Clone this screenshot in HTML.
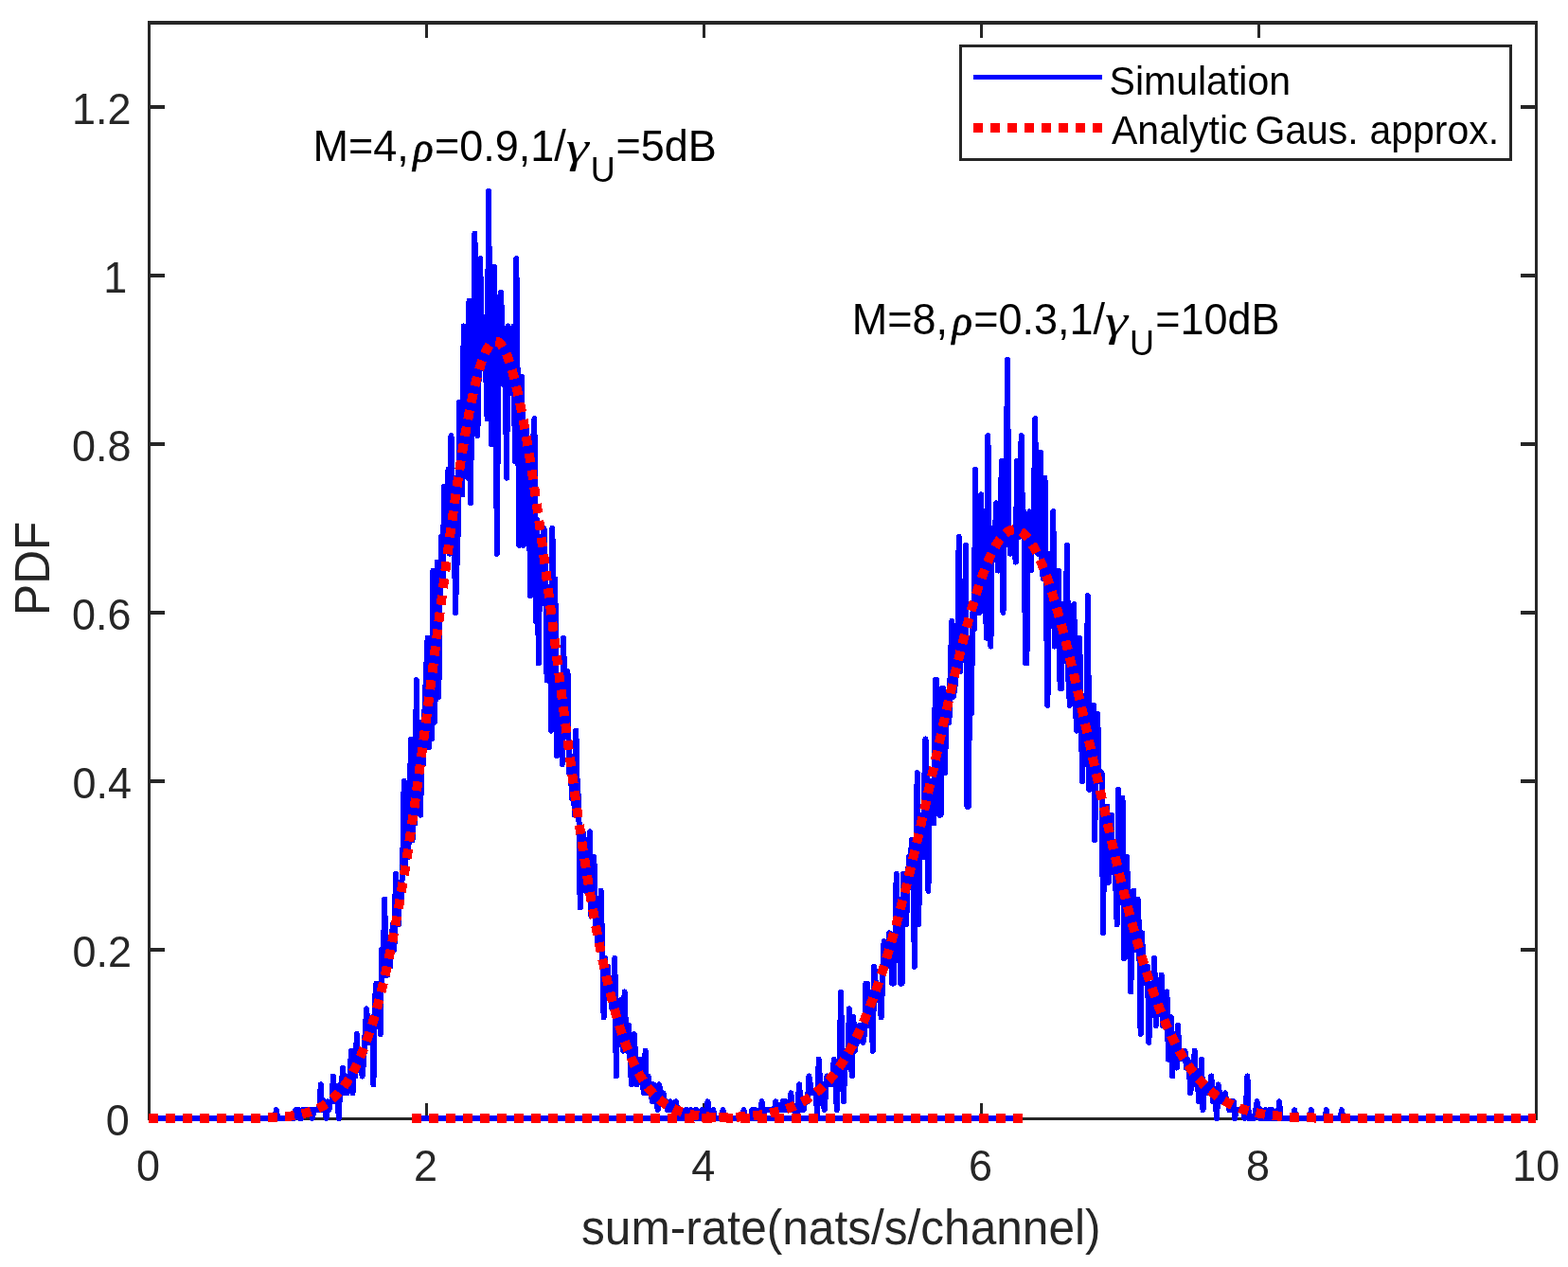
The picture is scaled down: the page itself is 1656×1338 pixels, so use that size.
<!DOCTYPE html>
<html lang="en"><head><meta charset="utf-8"><title>PDF of sum-rate</title>
<style>
html,body{margin:0;padding:0;background:#fff;}
body{width:1656px;height:1338px;overflow:hidden;}
svg{display:block;}
text{font-family:"Liberation Sans",sans-serif;}
.tk{font-size:45px;fill:#262626;}
.lab{font-size:49.6px;fill:#262626;}
.leg{font-size:41px;fill:#000;}
.ann{font-size:45px;fill:#000;}
.gr{font-family:"Liberation Serif","DejaVu Serif",serif;font-style:italic;font-size:44.5px;}
.sub{font-size:36px;}
.rho{stroke:#000;stroke-width:0.7px;}
</style></head><body>
<svg width="1656" height="1338" viewBox="0 0 1656 1338">
<rect x="0" y="0" width="1656" height="1338" fill="#fff"/>

<g fill="#262626" shape-rendering="crispEdges">
<rect x="156" y="22" width="1468" height="4"/>
<rect x="156" y="1180" width="1468" height="3"/>
<rect x="156" y="22" width="3" height="1161"/>
<rect x="1621" y="22" width="3" height="1161"/>
<rect x="449" y="26" width="3" height="14"/><rect x="449" y="1165" width="3" height="14"/>
<rect x="742" y="26" width="3" height="14"/><rect x="742" y="1165" width="3" height="14"/>
<rect x="1035" y="26" width="3" height="14"/><rect x="1035" y="1165" width="3" height="14"/>
<rect x="1328" y="26" width="3" height="14"/><rect x="1328" y="1165" width="3" height="14"/>
<rect x="159" y="1001" width="15" height="4"/><rect x="1606" y="1001" width="15" height="4"/>
<rect x="159" y="823" width="15" height="4"/><rect x="1606" y="823" width="15" height="4"/>
<rect x="159" y="645" width="15" height="4"/><rect x="1606" y="645" width="15" height="4"/>
<rect x="159" y="467" width="15" height="4"/><rect x="1606" y="467" width="15" height="4"/>
<rect x="159" y="289" width="15" height="4"/><rect x="1606" y="289" width="15" height="4"/>
<rect x="159" y="111" width="15" height="4"/><rect x="1606" y="111" width="15" height="4"/>
</g>
<g fill="none" stroke-linejoin="round" stroke-linecap="butt" shape-rendering="crispEdges" transform="translate(-0.4,0)">
<path d="M157.5,1181L159,1181L160.4,1181L161.9,1181L163.4,1181L164.8,1181L166.3,1181L167.8,1181L169.2,1181L170.7,1181L172.2,1181L173.6,1181L175.1,1181L176.5,1181L178,1181L179.5,1181L180.9,1181L182.4,1181L183.9,1181L185.3,1181L186.8,1181L188.3,1181L189.7,1181L191.2,1181L192.7,1181L194.1,1181L195.6,1181L197.1,1181L198.5,1181L200,1181L201.4,1181L202.9,1181L204.4,1181L205.8,1181L207.3,1181L208.8,1181L210.2,1181L211.7,1181L213.2,1181L214.6,1181L216.1,1181L217.6,1181L219,1181L220.5,1181L222,1181L223.4,1181L224.9,1181L226.4,1181L227.8,1181L229.3,1181L230.8,1181L232.2,1181L233.7,1181L235.1,1181L236.6,1181L238.1,1181L239.5,1181L241,1181L242.5,1181L243.9,1181L245.4,1181L246.9,1181L248.3,1181L249.8,1181L251.3,1181L252.7,1181L254.2,1181L255.7,1181L257.1,1181L258.6,1181L260.1,1181L261.5,1181L263,1181L264.4,1181L265.9,1181L267.4,1181L268.8,1181L270.3,1181L271.8,1181L273.2,1181L274.7,1181L276.2,1181L277.6,1181L279.1,1181L280.6,1181L282,1181L283.5,1181L285,1181L286.4,1181L287.9,1181L289.4,1181L290.8,1181L292.3,1172.1L293.7,1181L295.2,1181L296.7,1181L298.1,1181L299.6,1181L301.1,1181L302.5,1181L304,1181L305.5,1181L306.9,1181L308.4,1181L309.9,1181L311.3,1181L312.8,1172.1L314.3,1172.1L315.7,1172.1L317.2,1181L318.7,1181L320.1,1172.1L321.6,1172.1L323,1172.1L324.5,1172.1L326,1172.1L327.4,1172.1L328.9,1172.1L330.4,1181L331.8,1172.1L333.3,1172.1L334.8,1172.1L336.2,1172.1L337.7,1172.1L339.2,1145.4L340.6,1172.1L342.1,1172.1L343.6,1163.2L345,1181L346.5,1163.2L347.9,1172.1L349.4,1163.2L350.9,1163.2L352.3,1136.5L353.8,1154.3L355.3,1163.2L356.7,1154.3L358.2,1181L359.7,1145.4L361.1,1145.4L362.6,1127.6L364.1,1154.3L365.5,1136.5L367,1154.3L368.5,1136.5L369.9,1136.5L371.4,1109.8L372.9,1154.3L374.3,1127.6L375.8,1136.5L377.2,1092L378.7,1118.7L380.2,1127.6L381.6,1127.6L383.1,1136.5L384.6,1118.7L386,1092L387.5,1065.3L389,1083.1L390.4,1100.9L391.9,1083.1L393.4,1074.2L394.8,1145.4L396.3,1056.4L397.8,1038.6L399.2,1074.2L400.7,1065.3L402.2,1092L403.6,1003L405.1,1020.8L406.6,949.6L408,1029.7L409.5,1029.7L410.9,994.1L412.4,1020.8L413.9,994.1L415.3,976.3L416.8,1003L418.3,922.9L419.7,976.3L421.2,976.3L422.7,931.8L424.1,949.6L425.6,914L427.1,825L428.5,914L430,887.3L431.5,905.1L432.9,860.6L434.4,780.5L435.9,887.3L437.3,833.9L438.8,869.5L440.2,718.2L441.7,833.9L443.2,825L444.6,860.6L446.1,762.7L447.6,807.2L449,744.9L450.5,709.3L452,673.7L453.4,789.4L454.9,709.3L456.4,780.5L457.8,602.5L459.3,762.7L460.8,709.3L462.2,593.6L463.7,736L465.1,620.3L466.6,566.9L468.1,611.4L469.5,513.5L471,575.8L472.5,575.8L473.9,495.7L475.4,584.7L476.9,460.1L478.3,522.4L479.8,504.6L481.3,647L482.7,602.5L484.2,558L485.7,424.5L487.1,477.9L488.6,522.4L490.1,344.4L491.5,495.7L493,451.2L494.4,504.6L495.9,317.7L497.4,531.3L498.8,406.7L500.3,433.4L501.8,246.5L503.2,362.2L504.7,460.1L506.2,388.9L507.6,273.2L509.1,362.2L510.6,388.9L512,335.5L513.5,388.9L515,442.3L516.4,202L517.9,371.1L519.4,469L520.8,335.5L522.3,282.1L523.8,353.3L525.2,584.7L526.7,388.9L528.1,397.8L529.6,308.8L531.1,371.1L532.5,406.7L534,388.9L535.5,504.6L536.9,344.4L538.4,415.6L539.9,380L541.3,397.8L542.8,344.4L544.3,486.8L545.7,273.2L547.2,415.6L548.7,575.8L550.1,469L551.6,397.8L553.1,575.8L554.5,451.2L556,451.2L557.4,477.9L558.9,486.8L560.4,629.2L561.8,531.3L563.3,469L564.8,442.3L566.2,655.9L567.7,549.1L569.2,700.4L570.6,593.6L572.1,566.9L573.6,566.9L575,558L576.5,611.4L578,718.2L579.4,620.3L580.9,620.3L582.4,771.6L583.8,558L585.3,700.4L586.7,611.4L588.2,798.3L589.7,718.2L591.1,727.1L592.6,718.2L594.1,807.2L595.5,673.7L597,744.9L598.5,744.9L599.9,709.3L601.4,816.1L602.9,798.3L604.3,842.8L605.8,825L607.3,860.6L608.7,771.6L610.2,833.9L611.6,842.8L613.1,958.5L614.6,896.2L616,878.4L617.5,887.3L619,940.7L620.4,940.7L621.9,914L623.4,878.4L624.8,967.4L626.3,940.7L627.8,905.1L629.2,985.2L630.7,967.4L632.2,1003L633.6,985.2L635.1,940.7L636.6,1003L638,1074.2L639.5,1011.9L641,1038.6L642.4,1020.8L643.9,1047.5L645.3,1038.6L646.8,1065.3L648.3,1065.3L649.7,1011.9L651.2,1136.5L652.7,1065.3L654.1,1092L655.6,1056.4L657.1,1100.9L658.5,1109.8L660,1047.5L661.5,1092L662.9,1109.8L664.4,1083.1L665.9,1118.7L667.3,1145.4L668.8,1109.8L670.2,1092L671.7,1118.7L673.2,1145.4L674.6,1136.5L676.1,1118.7L677.6,1136.5L679,1145.4L680.5,1154.3L682,1109.8L683.4,1154.3L684.9,1136.5L686.4,1145.4L687.8,1154.3L689.3,1163.2L690.8,1145.4L692.2,1154.3L693.7,1163.2L695.2,1172.1L696.6,1145.4L698.1,1154.3L699.5,1163.2L701,1154.3L702.5,1163.2L703.9,1163.2L705.4,1172.1L706.9,1172.1L708.3,1163.2L709.8,1172.1L711.3,1172.1L712.7,1172.1L714.2,1163.2L715.7,1172.1L717.1,1181L718.6,1172.1L720.1,1172.1L721.5,1181L723,1181L724.5,1172.1L725.9,1172.1L727.4,1181L728.9,1181L730.3,1172.1L731.8,1181L733.2,1181L734.7,1172.1L736.2,1172.1L737.6,1181L739.1,1181L740.6,1181L742,1172.1L743.5,1181L745,1181L746.4,1181L747.9,1163.2L749.4,1181L750.8,1181L752.3,1181L753.8,1172.1L755.2,1181L756.7,1181L758.1,1181L759.6,1181L761.1,1181L762.5,1181L764,1172.1L765.5,1181L766.9,1181L768.4,1181L769.9,1181L771.3,1181L772.8,1181L774.3,1181L775.7,1181L777.2,1181L778.7,1181L780.1,1181L781.6,1181L783.1,1181L784.5,1181L786,1172.1L787.5,1181L788.9,1181L790.4,1181L791.8,1181L793.3,1181L794.8,1172.1L796.2,1181L797.7,1181L799.2,1181L800.6,1181L802.1,1181L803.6,1181L805,1181L806.5,1181L808,1181L809.4,1181L810.9,1181L812.4,1181L813.8,1181L815.3,1181L816.8,1181L818.2,1181L819.7,1181L821.1,1181L822.6,1181L824.1,1181L825.5,1181L827,1181L828.5,1181L829.9,1181L831.4,1181L832.9,1181L834.3,1181L835.8,1181L837.3,1181L838.7,1181L840.2,1181L841.7,1181L843.1,1181L844.6,1181L846,1181L847.5,1181L849,1181L850.4,1181L851.9,1181L853.4,1181L854.8,1181L856.3,1181L857.8,1181L859.2,1181L860.7,1181L862.2,1181L863.6,1181L865.1,1181L866.6,1181L868,1181L869.5,1181L871,1181L872.4,1181L873.9,1181L875.4,1181L876.8,1181L878.3,1181L879.7,1181L881.2,1181L882.7,1181L884.1,1181L885.6,1181L887.1,1181L888.5,1181L890,1181L891.5,1181L892.9,1181L894.4,1181L895.9,1181L897.3,1181L898.8,1181L900.3,1181L901.7,1181L903.2,1181L904.6,1181L906.1,1181L907.6,1181L909,1181L910.5,1181L912,1181L913.4,1181L914.9,1181L916.4,1181L917.8,1181L919.3,1181L920.8,1181L922.2,1181L923.7,1181L925.2,1181L926.6,1181L928.1,1181L929.6,1181L931,1181L932.5,1181L934,1181L935.4,1181L936.9,1181L938.3,1181L939.8,1181L941.3,1181L942.7,1181L944.2,1181L945.7,1181L947.1,1181L948.6,1181L950.1,1181L951.5,1181L953,1181L954.5,1181L955.9,1181L957.4,1181L958.9,1181L960.3,1181L961.8,1181L963.2,1181L964.7,1181L966.2,1181L967.6,1181L969.1,1181L970.6,1181L972,1181L973.5,1181L975,1181L976.4,1181L977.9,1181L979.4,1181L980.8,1181L982.3,1181L983.8,1181L985.2,1181L986.7,1181L988.2,1181L989.6,1181L991.1,1181L992.5,1181L994,1181L995.5,1181L996.9,1181L998.4,1181L999.9,1181L1001.3,1181L1002.8,1181L1004.3,1181L1005.7,1181L1007.2,1181L1008.7,1181L1010.1,1181L1011.6,1181L1013.1,1181L1014.5,1181L1016,1181L1017.5,1181L1018.9,1181L1020.4,1181L1021.9,1181L1023.3,1181L1024.8,1181L1026.2,1181L1027.7,1181L1029.2,1181L1030.6,1181L1032.1,1181L1033.6,1181L1035,1181L1036.5,1181L1038,1181L1039.4,1181L1040.9,1181L1042.4,1181L1043.8,1181L1045.3,1181L1046.8,1181L1048.2,1181L1049.7,1181L1051.2,1181L1052.6,1181L1054.1,1181L1055.5,1181L1057,1181L1058.5,1181L1059.9,1181L1061.4,1181L1062.9,1181L1064.3,1181L1065.8,1181L1067.3,1181L1068.7,1181L1070.2,1181L1071.7,1181L1073.1,1181L1074.6,1181L1076.1,1181L1077.5,1181L1079,1181L1080.5,1181" stroke="#0000ff" stroke-width="6"/>
<path d="M435.9,1181L437.3,1181L438.8,1181L440.2,1181L441.7,1181L443.2,1181L444.6,1181L446.1,1181L447.6,1181L449,1181L450.5,1181L452,1181L453.4,1181L454.9,1181L456.4,1181L457.8,1181L459.3,1181L460.8,1181L462.2,1181L463.7,1181L465.1,1181L466.6,1181L468.1,1181L469.5,1181L471,1181L472.5,1181L473.9,1181L475.4,1181L476.9,1181L478.3,1181L479.8,1181L481.3,1181L482.7,1181L484.2,1181L485.7,1181L487.1,1181L488.6,1181L490.1,1181L491.5,1181L493,1181L494.4,1181L495.9,1181L497.4,1181L498.8,1181L500.3,1181L501.8,1181L503.2,1181L504.7,1181L506.2,1181L507.6,1181L509.1,1181L510.6,1181L512,1181L513.5,1181L515,1181L516.4,1181L517.9,1181L519.4,1181L520.8,1181L522.3,1181L523.8,1181L525.2,1181L526.7,1181L528.1,1181L529.6,1181L531.1,1181L532.5,1181L534,1181L535.5,1181L536.9,1181L538.4,1181L539.9,1181L541.3,1181L542.8,1181L544.3,1181L545.7,1181L547.2,1181L548.7,1181L550.1,1181L551.6,1181L553.1,1181L554.5,1181L556,1181L557.4,1181L558.9,1181L560.4,1181L561.8,1181L563.3,1181L564.8,1181L566.2,1181L567.7,1181L569.2,1181L570.6,1181L572.1,1181L573.6,1181L575,1181L576.5,1181L578,1181L579.4,1181L580.9,1181L582.4,1181L583.8,1181L585.3,1181L586.7,1181L588.2,1181L589.7,1181L591.1,1181L592.6,1181L594.1,1181L595.5,1181L597,1181L598.5,1181L599.9,1181L601.4,1181L602.9,1181L604.3,1181L605.8,1181L607.3,1181L608.7,1181L610.2,1181L611.6,1181L613.1,1181L614.6,1181L616,1181L617.5,1181L619,1181L620.4,1181L621.9,1181L623.4,1181L624.8,1181L626.3,1181L627.8,1181L629.2,1181L630.7,1181L632.2,1181L633.6,1181L635.1,1181L636.6,1181L638,1181L639.5,1181L641,1181L642.4,1181L643.9,1181L645.3,1181L646.8,1181L648.3,1181L649.7,1181L651.2,1181L652.7,1181L654.1,1181L655.6,1181L657.1,1181L658.5,1181L660,1181L661.5,1181L662.9,1181L664.4,1181L665.9,1181L667.3,1181L668.8,1181L670.2,1181L671.7,1181L673.2,1181L674.6,1181L676.1,1181L677.6,1181L679,1181L680.5,1181L682,1181L683.4,1181L684.9,1181L686.4,1181L687.8,1181L689.3,1181L690.8,1181L692.2,1181L693.7,1181L695.2,1181L696.6,1181L698.1,1181L699.5,1181L701,1181L702.5,1181L703.9,1181L705.4,1181L706.9,1181L708.3,1181L709.8,1181L711.3,1181L712.7,1181L714.2,1181L715.7,1181L717.1,1181L718.6,1181L720.1,1181L721.5,1181L723,1181L724.5,1181L725.9,1181L727.4,1181L728.9,1181L730.3,1181L731.8,1181L733.2,1181L734.7,1181L736.2,1181L737.6,1181L739.1,1181L740.6,1181L742,1181L743.5,1181L745,1181L746.4,1181L747.9,1181L749.4,1181L750.8,1181L752.3,1181L753.8,1181L755.2,1181L756.7,1181L758.1,1181L759.6,1181L761.1,1181L762.5,1181L764,1172.1L765.5,1181L766.9,1181L768.4,1181L769.9,1181L771.3,1181L772.8,1181L774.3,1181L775.7,1181L777.2,1181L778.7,1181L780.1,1181L781.6,1181L783.1,1181L784.5,1181L786,1172.1L787.5,1181L788.9,1181L790.4,1181L791.8,1181L793.3,1181L794.8,1172.1L796.2,1181L797.7,1172.1L799.2,1181L800.6,1181L802.1,1181L803.6,1172.1L805,1163.2L806.5,1181L808,1172.1L809.4,1172.1L810.9,1172.1L812.4,1172.1L813.8,1172.1L815.3,1172.1L816.8,1172.1L818.2,1172.1L819.7,1163.2L821.1,1172.1L822.6,1172.1L824.1,1172.1L825.5,1172.1L827,1163.2L828.5,1172.1L829.9,1163.2L831.4,1172.1L832.9,1172.1L834.3,1172.1L835.8,1154.3L837.3,1172.1L838.7,1172.1L840.2,1172.1L841.7,1181L843.1,1163.2L844.6,1145.4L846,1172.1L847.5,1163.2L849,1172.1L850.4,1163.2L851.9,1163.2L853.4,1163.2L854.8,1136.5L856.3,1145.4L857.8,1154.3L859.2,1154.3L860.7,1154.3L862.2,1154.3L863.6,1181L865.1,1118.7L866.6,1145.4L868,1154.3L869.5,1145.4L871,1172.1L872.4,1154.3L873.9,1136.5L875.4,1145.4L876.8,1145.4L878.3,1145.4L879.7,1136.5L881.2,1118.7L882.7,1127.6L884.1,1172.1L885.6,1127.6L887.1,1118.7L888.5,1047.5L890,1136.5L891.5,1163.2L892.9,1109.8L894.4,1127.6L895.9,1118.7L897.3,1065.3L898.8,1118.7L900.3,1136.5L901.7,1074.2L903.2,1109.8L904.6,1100.9L906.1,1100.9L907.6,1083.1L909,1083.1L910.5,1083.1L912,1100.9L913.4,1092L914.9,1038.6L916.4,1038.6L917.8,1083.1L919.3,1047.5L920.8,1065.3L922.2,1109.8L923.7,1020.8L925.2,1038.6L926.6,1056.4L928.1,1047.5L929.6,1047.5L931,1074.2L932.5,1038.6L934,994.1L935.4,1003L936.9,1020.8L938.3,1003L939.8,985.2L941.3,994.1L942.7,1038.6L944.2,1038.6L945.7,994.1L947.1,922.9L948.6,976.3L950.1,949.6L951.5,1038.6L953,1038.6L954.5,922.9L955.9,940.7L957.4,976.3L958.9,940.7L960.3,905.1L961.8,922.9L963.2,887.3L964.7,887.3L966.2,1020.8L967.6,914L969.1,816.1L970.6,976.3L972,887.3L973.5,860.6L975,905.1L976.4,833.9L977.9,780.5L979.4,833.9L980.8,940.7L982.3,842.8L983.8,825L985.2,825L986.7,869.5L988.2,718.2L989.6,718.2L991.1,762.7L992.5,860.6L994,860.6L995.5,727.1L996.9,727.1L998.4,816.1L999.9,744.9L1001.3,762.7L1002.8,762.7L1004.3,700.4L1005.7,655.9L1007.2,736L1008.7,727.1L1010.1,709.3L1011.6,682.6L1013.1,566.9L1014.5,709.3L1016,673.7L1017.5,664.8L1018.9,682.6L1020.4,575.8L1021.9,851.7L1023.3,851.7L1024.8,682.6L1026.2,753.8L1027.7,647L1029.2,664.8L1030.6,495.7L1032.1,647L1033.6,611.4L1035,647L1036.5,522.4L1038,575.8L1039.4,575.8L1040.9,629.2L1042.4,673.7L1043.8,460.1L1045.3,593.6L1046.8,682.6L1048.2,558L1049.7,584.7L1051.2,566.9L1052.6,531.3L1054.1,602.5L1055.5,602.5L1057,531.3L1058.5,486.8L1059.9,647L1061.4,531.3L1062.9,558L1064.3,380L1065.8,558L1067.3,584.7L1068.7,558L1070.2,566.9L1071.7,575.8L1073.1,593.6L1074.6,486.8L1076.1,558L1077.5,566.9L1079,460.1L1080.5,558L1081.9,540.2L1083.4,700.4L1084.8,700.4L1086.3,549.1L1087.8,540.2L1089.2,602.5L1090.7,549.1L1092.2,549.1L1093.6,442.3L1095.1,558L1096.6,584.7L1098,575.8L1099.5,477.9L1101,602.5L1102.4,611.4L1103.9,504.6L1105.4,638.1L1106.8,744.9L1108.3,602.5L1109.8,584.7L1111.2,647L1112.7,540.2L1114.1,682.6L1115.6,620.3L1117.1,664.8L1118.5,602.5L1120,727.1L1121.5,727.1L1122.9,638.1L1124.4,664.8L1125.9,673.7L1127.3,575.8L1128.8,718.2L1130.3,744.9L1131.7,727.1L1133.2,736L1134.7,638.1L1136.1,744.9L1137.6,771.6L1139,709.3L1140.5,673.7L1142,736L1143.4,825L1144.9,780.5L1146.4,789.4L1147.8,744.9L1149.3,629.2L1150.8,833.9L1152.2,816.1L1153.7,816.1L1155.2,744.9L1156.6,887.3L1158.1,789.4L1159.6,753.8L1161,816.1L1162.5,825L1164,816.1L1165.4,985.2L1166.9,860.6L1168.3,887.3L1169.8,851.7L1171.3,931.8L1172.7,878.4L1174.2,860.6L1175.7,914L1177.1,914L1178.6,931.8L1180.1,976.3L1181.5,833.9L1183,949.6L1184.5,922.9L1185.9,842.8L1187.4,1011.9L1188.9,967.4L1190.3,905.1L1191.8,940.7L1193.3,985.2L1194.7,1047.5L1196.2,958.5L1197.7,940.7L1199.1,1003L1200.6,976.3L1202,949.6L1203.5,985.2L1205,1092L1206.4,985.2L1207.9,1020.8L1209.4,1020.8L1210.8,1038.6L1212.3,1020.8L1213.8,1100.9L1215.2,1038.6L1216.7,1038.6L1218.2,1065.3L1219.6,1011.9L1221.1,1083.1L1222.6,1065.3L1224,1047.5L1225.5,1065.3L1227,1029.7L1228.4,1083.1L1229.9,1083.1L1231.3,1065.3L1232.8,1047.5L1234.3,1118.7L1235.7,1083.1L1237.2,1074.2L1238.7,1136.5L1240.1,1092L1241.6,1109.8L1243.1,1127.6L1244.5,1083.1L1246,1118.7L1247.5,1109.8L1248.9,1109.8L1250.4,1118.7L1251.9,1109.8L1253.3,1127.6L1254.8,1118.7L1256.2,1127.6L1257.7,1154.3L1259.2,1136.5L1260.6,1136.5L1262.1,1109.8L1263.6,1145.4L1265,1136.5L1266.5,1163.2L1268,1145.4L1269.4,1118.7L1270.9,1172.1L1272.4,1145.4L1273.8,1145.4L1275.3,1154.3L1276.8,1154.3L1278.2,1154.3L1279.7,1136.5L1281.2,1163.2L1282.6,1154.3L1284.1,1163.2L1285.5,1181L1287,1145.4L1288.5,1154.3L1289.9,1163.2L1291.4,1163.2L1292.9,1163.2L1294.3,1154.3L1295.8,1163.2L1297.3,1163.2L1298.7,1172.1L1300.2,1172.1L1301.7,1163.2L1303.1,1163.2L1304.6,1181L1306.1,1172.1L1307.5,1172.1L1309,1172.1L1310.5,1172.1L1311.9,1172.1L1313.4,1172.1L1314.8,1181L1316.3,1172.1L1317.8,1136.5L1319.2,1181L1320.7,1181L1322.2,1181L1323.6,1181L1325.1,1181L1326.6,1172.1L1328,1163.2L1329.5,1172.1L1331,1181L1332.4,1172.1L1333.9,1181L1335.4,1181L1336.8,1172.1L1338.3,1181L1339.8,1181L1341.2,1172.1L1342.7,1181L1344.2,1172.1L1345.6,1181L1347.1,1181L1348.5,1181L1350,1181L1351.5,1163.2L1352.9,1181L1354.4,1181L1355.9,1181L1357.3,1181L1358.8,1181L1360.3,1181L1361.7,1181L1363.2,1181L1364.7,1181L1366.1,1181L1367.6,1172.1L1369.1,1181L1370.5,1181L1372,1181L1373.5,1181L1374.9,1181L1376.4,1181L1377.8,1181L1379.3,1181L1380.8,1181L1382.2,1181L1383.7,1181L1385.2,1172.1L1386.6,1181L1388.1,1181L1389.6,1181L1391,1181L1392.5,1181L1394,1181L1395.4,1181L1396.9,1181L1398.4,1181L1399.8,1181L1401.3,1172.1L1402.8,1181L1404.2,1181L1405.7,1181L1407.1,1181L1408.6,1181L1410.1,1181L1411.5,1181L1413,1181L1414.5,1181L1415.9,1181L1417.4,1172.1L1418.9,1181L1420.3,1181L1421.8,1181L1423.3,1181L1424.7,1181L1426.2,1181L1427.7,1181L1429.1,1181L1430.6,1181L1432,1181L1433.5,1181L1435,1181L1436.4,1181L1437.9,1181L1439.4,1181L1440.8,1181L1442.3,1181L1443.8,1181L1445.2,1181L1446.7,1181L1448.2,1181L1449.6,1181L1451.1,1181L1452.6,1181L1454,1181L1455.5,1181L1457,1181L1458.4,1181L1459.9,1181L1461.3,1181L1462.8,1181L1464.3,1181L1465.7,1181L1467.2,1181L1468.7,1181L1470.1,1181L1471.6,1181L1473.1,1181L1474.5,1181L1476,1181L1477.5,1181L1478.9,1181L1480.4,1181L1481.9,1181L1483.3,1181L1484.8,1181L1486.3,1181L1487.7,1181L1489.2,1181L1490.7,1181L1492.1,1181L1493.6,1181L1495,1181L1496.5,1181L1498,1181L1499.4,1181L1500.9,1181L1502.4,1181L1503.8,1181L1505.3,1181L1506.8,1181L1508.2,1181L1509.7,1181L1511.2,1181L1512.6,1181L1514.1,1181L1515.6,1181L1517,1181L1518.5,1181L1520,1181L1521.4,1181L1522.9,1181L1524.3,1181L1525.8,1181L1527.3,1181L1528.7,1181L1530.2,1181L1531.7,1181L1533.1,1181L1534.6,1181L1536.1,1181L1537.5,1181L1539,1181L1540.5,1181L1541.9,1181L1543.4,1181L1544.9,1181L1546.3,1181L1547.8,1181L1549.2,1181L1550.7,1181L1552.2,1181L1553.6,1181L1555.1,1181L1556.6,1181L1558,1181L1559.5,1181L1561,1181L1562.4,1181L1563.9,1181L1565.4,1181L1566.8,1181L1568.3,1181L1569.8,1181L1571.2,1181L1572.7,1181L1574.2,1181L1575.6,1181L1577.1,1181L1578.5,1181L1580,1181L1581.5,1181L1582.9,1181L1584.4,1181L1585.9,1181L1587.3,1181L1588.8,1181L1590.3,1181L1591.7,1181L1593.2,1181L1594.7,1181L1596.1,1181L1597.6,1181L1599.1,1181L1600.5,1181L1602,1181L1603.5,1181L1604.9,1181L1606.4,1181L1607.8,1181L1609.3,1181L1610.8,1181L1612.2,1181L1613.7,1181L1615.2,1181L1616.6,1181L1618.1,1181L1619.6,1181L1621,1181L1622.5,1181" stroke="#0000ff" stroke-width="6"/>
<path d="M157.50,1181.00L158.97,1181.00L160.43,1181.00L161.90,1181.00L163.36,1181.00L164.82,1181.00L166.29,1181.00L167.75,1181.00L169.22,1181.00L170.69,1181.00L172.15,1181.00L173.62,1181.00L175.08,1181.00L176.55,1181.00L178.01,1181.00L179.47,1181.00L180.94,1181.00L182.41,1181.00L183.87,1181.00L185.34,1181.00L186.80,1181.00L188.26,1181.00L189.73,1181.00L191.19,1181.00L192.66,1181.00L194.12,1181.00L195.59,1181.00L197.06,1181.00L198.52,1181.00L199.99,1181.00L201.45,1181.00L202.91,1181.00L204.38,1181.00L205.84,1181.00L207.31,1181.00L208.78,1181.00L210.24,1181.00L211.70,1181.00L213.17,1180.99L214.63,1180.99L216.10,1180.99L217.56,1180.99L219.03,1180.99L220.50,1180.99L221.96,1180.99L223.43,1180.99L224.89,1180.99L226.35,1180.99L227.82,1180.98L229.28,1180.98L230.75,1180.98L232.22,1180.98L233.68,1180.98L235.15,1180.97L236.61,1180.97L238.08,1180.97L239.54,1180.96L241.00,1180.96L242.47,1180.96L243.94,1180.95L245.40,1180.95L246.87,1180.94L248.33,1180.93L249.80,1180.93L251.26,1180.92L252.72,1180.91L254.19,1180.90L255.66,1180.89L257.12,1180.88L258.58,1180.87L260.05,1180.86L261.51,1180.84L262.98,1180.83L264.44,1180.81L265.91,1180.79L267.38,1180.77L268.84,1180.75L270.31,1180.72L271.77,1180.70L273.24,1180.67L274.70,1180.63L276.17,1180.60L277.63,1180.56L279.10,1180.52L280.56,1180.48L282.02,1180.43L283.49,1180.38L284.95,1180.32L286.42,1180.26L287.88,1180.19L289.35,1180.12L290.81,1180.04L292.28,1179.96L293.75,1179.86L295.21,1179.77L296.68,1179.66L298.14,1179.54L299.61,1179.42L301.07,1179.28L302.53,1179.14L304.00,1178.98L305.47,1178.82L306.93,1178.64L308.39,1178.44L309.86,1178.23L311.32,1178.01L312.79,1177.77L314.25,1177.51L315.72,1177.24L317.19,1176.94L318.65,1176.63L320.12,1176.29L321.58,1175.93L323.04,1175.54L324.51,1175.13L325.97,1174.68L327.44,1174.21L328.90,1173.71L330.37,1173.18L331.83,1172.61L333.30,1172.00L334.76,1171.36L336.23,1170.67L337.69,1169.95L339.16,1169.17L340.62,1168.35L342.09,1167.49L343.56,1166.56L345.02,1165.59L346.49,1164.55L347.95,1163.46L349.42,1162.30L350.88,1161.08L352.35,1159.79L353.81,1158.43L355.28,1157.00L356.74,1155.48L358.21,1153.89L359.67,1152.21L361.13,1150.44L362.60,1148.58L364.06,1146.63L365.53,1144.58L367.00,1142.43L368.46,1140.17L369.93,1137.80L371.39,1135.32L372.86,1132.73L374.32,1130.01L375.78,1127.17L377.25,1124.20L378.72,1121.10L380.18,1117.87L381.64,1114.49L383.11,1110.98L384.57,1107.31L386.04,1103.50L387.50,1099.53L388.97,1095.40L390.44,1091.11L391.90,1086.66L393.37,1082.04L394.83,1077.25L396.29,1072.29L397.76,1067.15L399.23,1061.83L400.69,1056.33L402.15,1050.64L403.62,1044.77L405.08,1038.71L406.55,1032.46L408.01,1026.02L409.48,1019.38L410.94,1012.55L412.41,1005.52L413.88,998.30L415.34,990.89L416.81,983.28L418.27,975.47L419.74,967.47L421.20,959.28L422.67,950.89L424.13,942.32L425.60,933.55L427.06,924.61L428.52,915.48L429.99,906.17L431.46,896.69L432.92,887.04L434.38,877.22L435.85,867.25L437.31,857.12L438.78,846.84L440.25,836.41L441.71,825.86L443.18,815.17L444.64,804.37L446.11,793.45L447.57,782.43L449.03,771.31L450.50,760.11L451.96,748.84L453.43,737.50L454.89,726.10L456.36,714.66L457.82,703.19L459.29,691.70L460.75,680.20L462.22,668.70L463.69,657.22L465.15,645.76L466.61,634.35L468.08,622.99L469.54,611.70L471.01,600.50L472.48,589.39L473.94,578.38L475.40,567.50L476.87,556.76L478.33,546.17L479.80,535.74L481.26,525.50L482.73,515.44L484.19,505.60L485.66,495.97L487.12,486.57L488.59,477.43L490.06,468.54L491.52,459.93L492.99,451.60L494.45,443.57L495.92,435.85L497.38,428.45L498.85,421.38L500.31,414.66L501.77,408.29L503.24,402.28L504.71,396.64L506.17,391.39L507.64,386.53L509.10,382.06L510.56,377.99L512.03,374.34L513.50,371.10L514.96,368.29L516.43,365.89L517.89,363.93L519.36,362.40L520.82,361.31L522.29,360.65L523.75,360.43L525.21,360.65L526.68,361.31L528.14,362.40L529.61,363.93L531.07,365.89L532.54,368.29L534.00,371.10L535.47,374.34L536.93,377.99L538.40,382.06L539.87,386.53L541.33,391.39L542.79,396.64L544.26,402.28L545.73,408.29L547.19,414.66L548.65,421.38L550.12,428.45L551.59,435.85L553.05,443.57L554.51,451.60L555.98,459.93L557.44,468.54L558.91,477.43L560.38,486.57L561.84,495.97L563.31,505.60L564.77,515.44L566.24,525.50L567.70,535.74L569.16,546.17L570.63,556.76L572.10,567.50L573.56,578.38L575.02,589.39L576.49,600.50L577.96,611.70L579.42,622.99L580.88,634.35L582.35,645.76L583.82,657.22L585.28,668.70L586.75,680.20L588.21,691.70L589.67,703.19L591.14,714.66L592.61,726.10L594.07,737.50L595.54,748.84L597.00,760.11L598.46,771.31L599.93,782.43L601.39,793.45L602.86,804.37L604.33,815.17L605.79,825.86L607.25,836.41L608.72,846.84L610.18,857.12L611.65,867.25L613.12,877.22L614.58,887.04L616.04,896.69L617.51,906.17L618.98,915.48L620.44,924.61L621.90,933.55L623.37,942.32L624.84,950.89L626.30,959.28L627.76,967.47L629.23,975.47L630.69,983.28L632.16,990.89L633.62,998.30L635.09,1005.52L636.56,1012.55L638.02,1019.38L639.49,1026.02L640.95,1032.46L642.41,1038.71L643.88,1044.77L645.35,1050.64L646.81,1056.33L648.27,1061.83L649.74,1067.15L651.21,1072.29L652.67,1077.25L654.13,1082.04L655.60,1086.66L657.07,1091.11L658.53,1095.40L660.00,1099.53L661.46,1103.50L662.92,1107.31L664.39,1110.98L665.86,1114.49L667.32,1117.87L668.79,1121.10L670.25,1124.20L671.71,1127.17L673.18,1130.01L674.64,1132.73L676.11,1135.32L677.58,1137.80L679.04,1140.17L680.50,1142.43L681.97,1144.58L683.43,1146.63L684.90,1148.58L686.37,1150.44L687.83,1152.21L689.29,1153.89L690.76,1155.48L692.23,1157.00L693.69,1158.43L695.15,1159.79L696.62,1161.08L698.09,1162.30L699.55,1163.46L701.01,1164.55L702.48,1165.59L703.94,1166.56L705.41,1167.49L706.88,1168.35L708.34,1169.17L709.81,1169.95L711.27,1170.67L712.74,1171.36L714.20,1172.00L715.66,1172.61L717.13,1173.18L718.60,1173.71L720.06,1174.21L721.52,1174.68L722.99,1175.13L724.46,1175.54L725.92,1175.93L727.38,1176.29L728.85,1176.63L730.32,1176.94L731.78,1177.24L733.25,1177.51L734.71,1177.77L736.17,1178.01L737.64,1178.23L739.11,1178.44L740.57,1178.64L742.04,1178.82L743.50,1178.98L744.96,1179.14L746.43,1179.28L747.90,1179.42L749.36,1179.54L750.83,1179.66L752.29,1179.77L753.75,1179.86L755.22,1179.96L756.68,1180.04L758.15,1180.12L759.62,1180.19L761.08,1180.26L762.54,1180.32L764.01,1180.38L765.48,1180.43L766.94,1180.48L768.40,1180.52L769.87,1180.56L771.34,1180.60L772.80,1180.63L774.26,1180.67L775.73,1180.70L777.20,1180.72L778.66,1180.75L780.12,1180.77L781.59,1180.79L783.05,1180.81L784.52,1180.83L785.99,1180.84L787.45,1180.86L788.91,1180.87L790.38,1180.88L791.85,1180.89L793.31,1180.90L794.77,1180.91L796.24,1180.92L797.71,1180.93L799.17,1180.93L800.63,1180.94L802.10,1180.95L803.57,1180.95L805.03,1180.96L806.50,1180.96L807.96,1180.96L809.42,1180.97L810.89,1180.97L812.35,1180.97L813.82,1180.98L815.29,1180.98L816.75,1180.98L818.21,1180.98L819.68,1180.98L821.15,1180.99L822.61,1180.99L824.08,1180.99L825.54,1180.99L827.00,1180.99L828.47,1180.99L829.93,1180.99L831.40,1180.99L832.87,1180.99L834.33,1180.99L835.79,1181.00L837.26,1181.00L838.73,1181.00L840.19,1181.00L841.65,1181.00L843.12,1181.00L844.59,1181.00L846.05,1181.00L847.51,1181.00L848.98,1181.00L850.45,1181.00L851.91,1181.00L853.38,1181.00L854.84,1181.00L856.30,1181.00L857.77,1181.00L859.24,1181.00L860.70,1181.00L862.16,1181.00L863.63,1181.00L865.10,1181.00L866.56,1181.00L868.02,1181.00L869.49,1181.00L870.96,1181.00L872.42,1181.00L873.88,1181.00L875.35,1181.00L876.82,1181.00L878.28,1181.00L879.75,1181.00L881.21,1181.00L882.67,1181.00L884.14,1181.00L885.60,1181.00L887.07,1181.00L888.54,1181.00L890.00,1181.00L891.46,1181.00L892.93,1181.00L894.40,1181.00L895.86,1181.00L897.33,1181.00L898.79,1181.00L900.25,1181.00L901.72,1181.00L903.18,1181.00L904.65,1181.00L906.12,1181.00L907.58,1181.00L909.04,1181.00L910.51,1181.00L911.98,1181.00L913.44,1181.00L914.90,1181.00L916.37,1181.00L917.84,1181.00L919.30,1181.00L920.76,1181.00L922.23,1181.00L923.70,1181.00L925.16,1181.00L926.62,1181.00L928.09,1181.00L929.55,1181.00L931.02,1181.00L932.49,1181.00L933.95,1181.00L935.41,1181.00L936.88,1181.00L938.35,1181.00L939.81,1181.00L941.27,1181.00L942.74,1181.00L944.21,1181.00L945.67,1181.00L947.13,1181.00L948.60,1181.00L950.07,1181.00L951.53,1181.00L953.00,1181.00L954.46,1181.00L955.92,1181.00L957.39,1181.00L958.85,1181.00L960.32,1181.00L961.79,1181.00L963.25,1181.00L964.71,1181.00L966.18,1181.00L967.65,1181.00L969.11,1181.00L970.58,1181.00L972.04,1181.00L973.50,1181.00L974.97,1181.00L976.43,1181.00L977.90,1181.00L979.37,1181.00L980.83,1181.00L982.30,1181.00L983.76,1181.00L985.23,1181.00L986.69,1181.00L988.15,1181.00L989.62,1181.00L991.09,1181.00L992.55,1181.00L994.01,1181.00L995.48,1181.00L996.95,1181.00L998.41,1181.00L999.88,1181.00L1001.34,1181.00L1002.80,1181.00L1004.27,1181.00L1005.74,1181.00L1007.20,1181.00L1008.66,1181.00L1010.13,1181.00L1011.60,1181.00L1013.06,1181.00L1014.52,1181.00L1015.99,1181.00L1017.45,1181.00L1018.92,1181.00L1020.38,1181.00L1021.85,1181.00L1023.31,1181.00L1024.78,1181.00L1026.24,1181.00L1027.71,1181.00L1029.17,1181.00L1030.64,1181.00L1032.11,1181.00L1033.57,1181.00L1035.04,1181.00L1036.50,1181.00L1037.96,1181.00L1039.43,1181.00L1040.89,1181.00L1042.36,1181.00L1043.83,1181.00L1045.29,1181.00L1046.76,1181.00L1048.22,1181.00L1049.68,1181.00L1051.15,1181.00L1052.62,1181.00L1054.08,1181.00L1055.55,1181.00L1057.01,1181.00L1058.47,1181.00L1059.94,1181.00L1061.40,1181.00L1062.87,1181.00L1064.34,1181.00L1065.80,1181.00L1067.26,1181.00L1068.73,1181.00L1070.20,1181.00L1071.66,1181.00L1073.12,1181.00L1074.59,1181.00L1076.05,1181.00L1077.52,1181.00L1078.99,1181.00L1080.45,1181.00" stroke="#ff0000" stroke-width="10" stroke-dasharray="10 8" stroke-dashoffset="0"/>
<path d="M435.85,1181.00L437.31,1181.00L438.78,1181.00L440.25,1181.00L441.71,1181.00L443.18,1181.00L444.64,1181.00L446.11,1181.00L447.57,1181.00L449.03,1181.00L450.50,1181.00L451.96,1181.00L453.43,1181.00L454.89,1181.00L456.36,1181.00L457.82,1181.00L459.29,1181.00L460.75,1181.00L462.22,1181.00L463.69,1181.00L465.15,1181.00L466.61,1181.00L468.08,1181.00L469.54,1181.00L471.01,1181.00L472.48,1181.00L473.94,1181.00L475.40,1181.00L476.87,1181.00L478.33,1181.00L479.80,1181.00L481.26,1181.00L482.73,1181.00L484.19,1181.00L485.66,1181.00L487.12,1181.00L488.59,1181.00L490.06,1181.00L491.52,1181.00L492.99,1181.00L494.45,1181.00L495.92,1181.00L497.38,1181.00L498.85,1181.00L500.31,1181.00L501.77,1181.00L503.24,1181.00L504.71,1181.00L506.17,1181.00L507.64,1181.00L509.10,1181.00L510.56,1181.00L512.03,1181.00L513.50,1181.00L514.96,1181.00L516.43,1181.00L517.89,1181.00L519.36,1181.00L520.82,1181.00L522.29,1181.00L523.75,1181.00L525.21,1181.00L526.68,1181.00L528.14,1181.00L529.61,1181.00L531.07,1181.00L532.54,1181.00L534.00,1181.00L535.47,1181.00L536.93,1181.00L538.40,1181.00L539.87,1181.00L541.33,1181.00L542.79,1181.00L544.26,1181.00L545.73,1181.00L547.19,1181.00L548.65,1181.00L550.12,1181.00L551.59,1181.00L553.05,1181.00L554.51,1181.00L555.98,1181.00L557.44,1181.00L558.91,1181.00L560.38,1181.00L561.84,1181.00L563.31,1181.00L564.77,1181.00L566.24,1181.00L567.70,1181.00L569.16,1181.00L570.63,1181.00L572.10,1181.00L573.56,1181.00L575.02,1181.00L576.49,1181.00L577.96,1181.00L579.42,1181.00L580.88,1181.00L582.35,1181.00L583.82,1181.00L585.28,1181.00L586.75,1181.00L588.21,1181.00L589.67,1181.00L591.14,1181.00L592.61,1181.00L594.07,1181.00L595.54,1181.00L597.00,1181.00L598.46,1181.00L599.93,1181.00L601.39,1181.00L602.86,1181.00L604.33,1181.00L605.79,1181.00L607.25,1181.00L608.72,1181.00L610.18,1181.00L611.65,1181.00L613.12,1181.00L614.58,1181.00L616.04,1181.00L617.51,1181.00L618.98,1181.00L620.44,1181.00L621.90,1181.00L623.37,1181.00L624.84,1181.00L626.30,1181.00L627.76,1181.00L629.23,1181.00L630.69,1181.00L632.16,1181.00L633.62,1181.00L635.09,1181.00L636.56,1181.00L638.02,1181.00L639.49,1181.00L640.95,1181.00L642.41,1181.00L643.88,1181.00L645.35,1181.00L646.81,1181.00L648.27,1181.00L649.74,1181.00L651.21,1181.00L652.67,1181.00L654.13,1181.00L655.60,1181.00L657.07,1181.00L658.53,1181.00L660.00,1181.00L661.46,1181.00L662.92,1181.00L664.39,1181.00L665.86,1181.00L667.32,1180.99L668.79,1180.99L670.25,1180.99L671.71,1180.99L673.18,1180.99L674.64,1180.99L676.11,1180.99L677.58,1180.99L679.04,1180.99L680.50,1180.99L681.97,1180.99L683.43,1180.99L684.90,1180.99L686.37,1180.98L687.83,1180.98L689.29,1180.98L690.76,1180.98L692.23,1180.98L693.69,1180.98L695.15,1180.98L696.62,1180.97L698.09,1180.97L699.55,1180.97L701.01,1180.97L702.48,1180.96L703.94,1180.96L705.41,1180.96L706.88,1180.95L708.34,1180.95L709.81,1180.95L711.27,1180.94L712.74,1180.94L714.20,1180.93L715.66,1180.93L717.13,1180.92L718.60,1180.92L720.06,1180.91L721.52,1180.90L722.99,1180.89L724.46,1180.89L725.92,1180.88L727.38,1180.87L728.85,1180.86L730.32,1180.85L731.78,1180.84L733.25,1180.83L734.71,1180.81L736.17,1180.80L737.64,1180.78L739.11,1180.77L740.57,1180.75L742.04,1180.73L743.50,1180.72L744.96,1180.70L746.43,1180.67L747.90,1180.65L749.36,1180.63L750.83,1180.60L752.29,1180.57L753.75,1180.54L755.22,1180.51L756.68,1180.48L758.15,1180.44L759.62,1180.41L761.08,1180.37L762.54,1180.32L764.01,1180.28L765.48,1180.23L766.94,1180.18L768.40,1180.13L769.87,1180.07L771.34,1180.01L772.80,1179.94L774.26,1179.88L775.73,1179.80L777.20,1179.73L778.66,1179.65L780.12,1179.56L781.59,1179.47L783.05,1179.38L784.52,1179.28L785.99,1179.17L787.45,1179.06L788.91,1178.94L790.38,1178.81L791.85,1178.68L793.31,1178.54L794.77,1178.39L796.24,1178.24L797.71,1178.07L799.17,1177.90L800.63,1177.72L802.10,1177.53L803.57,1177.33L805.03,1177.12L806.50,1176.90L807.96,1176.66L809.42,1176.42L810.89,1176.16L812.35,1175.89L813.82,1175.61L815.29,1175.31L816.75,1175.00L818.21,1174.67L819.68,1174.32L821.15,1173.96L822.61,1173.59L824.08,1173.19L825.54,1172.78L827.00,1172.34L828.47,1171.89L829.93,1171.42L831.40,1170.92L832.87,1170.40L834.33,1169.86L835.79,1169.30L837.26,1168.71L838.73,1168.09L840.19,1167.45L841.65,1166.78L843.12,1166.08L844.59,1165.35L846.05,1164.59L847.51,1163.80L848.98,1162.98L850.45,1162.12L851.91,1161.23L853.38,1160.30L854.84,1159.34L856.30,1158.34L857.77,1157.30L859.24,1156.21L860.70,1155.09L862.16,1153.93L863.63,1152.72L865.10,1151.46L866.56,1150.17L868.02,1148.82L869.49,1147.42L870.96,1145.98L872.42,1144.48L873.88,1142.93L875.35,1141.33L876.82,1139.67L878.28,1137.96L879.75,1136.19L881.21,1134.36L882.67,1132.47L884.14,1130.52L885.60,1128.51L887.07,1126.44L888.54,1124.30L890.00,1122.09L891.46,1119.82L892.93,1117.48L894.40,1115.07L895.86,1112.59L897.33,1110.04L898.79,1107.41L900.25,1104.71L901.72,1101.94L903.18,1099.09L904.65,1096.17L906.12,1093.16L907.58,1090.08L909.04,1086.92L910.51,1083.68L911.98,1080.36L913.44,1076.96L914.90,1073.47L916.37,1069.90L917.84,1066.25L919.30,1062.52L920.76,1058.70L922.23,1054.79L923.70,1050.81L925.16,1046.73L926.62,1042.58L928.09,1038.33L929.55,1034.01L931.02,1029.59L932.49,1025.10L933.95,1020.51L935.41,1015.85L936.88,1011.10L938.35,1006.27L939.81,1001.35L941.27,996.36L942.74,991.28L944.21,986.12L945.67,980.89L947.13,975.57L948.60,970.18L950.07,964.72L951.53,959.18L953.00,953.57L954.46,947.89L955.92,942.14L957.39,936.32L958.85,930.44L960.32,924.50L961.79,918.49L963.25,912.43L964.71,906.31L966.18,900.14L967.65,893.92L969.11,887.64L970.58,881.33L972.04,874.97L973.50,868.57L974.97,862.14L976.43,855.67L977.90,849.18L979.37,842.66L980.83,836.11L982.30,829.55L983.76,822.97L985.23,816.38L986.69,809.79L988.15,803.19L989.62,796.59L991.09,789.99L992.55,783.41L994.01,776.83L995.48,770.28L996.95,763.74L998.41,757.23L999.88,750.76L1001.34,744.31L1002.80,737.91L1004.27,731.55L1005.74,725.24L1007.20,718.98L1008.66,712.78L1010.13,706.64L1011.60,700.57L1013.06,694.57L1014.52,688.64L1015.99,682.80L1017.45,677.04L1018.92,671.37L1020.38,665.79L1021.85,660.32L1023.31,654.94L1024.78,649.68L1026.24,644.52L1027.71,639.48L1029.17,634.56L1030.64,629.77L1032.11,625.10L1033.57,620.57L1035.04,616.17L1036.50,611.92L1037.96,607.80L1039.43,603.84L1040.89,600.02L1042.36,596.36L1043.83,592.85L1045.29,589.51L1046.76,586.33L1048.22,583.31L1049.68,580.47L1051.15,577.79L1052.62,575.29L1054.08,572.97L1055.55,570.82L1057.01,568.85L1058.47,567.07L1059.94,565.47L1061.40,564.05L1062.87,562.82L1064.34,561.78L1065.80,560.92L1067.26,560.26L1068.73,559.78L1070.20,559.49L1071.66,559.40L1073.12,559.49L1074.59,559.78L1076.05,560.26L1077.52,560.92L1078.99,561.78L1080.45,562.82L1081.91,564.05L1083.38,565.47L1084.85,567.07L1086.31,568.85L1087.78,570.82L1089.24,572.97L1090.70,575.29L1092.17,577.79L1093.63,580.47L1095.10,583.31L1096.57,586.33L1098.03,589.51L1099.49,592.85L1100.96,596.36L1102.42,600.02L1103.89,603.84L1105.36,607.80L1106.82,611.92L1108.29,616.17L1109.75,620.57L1111.21,625.10L1112.68,629.77L1114.14,634.56L1115.61,639.48L1117.08,644.52L1118.54,649.68L1120.01,654.94L1121.47,660.32L1122.93,665.79L1124.40,671.37L1125.87,677.04L1127.33,682.80L1128.80,688.64L1130.26,694.57L1131.72,700.57L1133.19,706.64L1134.65,712.78L1136.12,718.98L1137.59,725.24L1139.05,731.55L1140.51,737.91L1141.98,744.31L1143.45,750.76L1144.91,757.23L1146.38,763.74L1147.84,770.28L1149.30,776.83L1150.77,783.41L1152.24,789.99L1153.70,796.59L1155.16,803.19L1156.63,809.79L1158.10,816.38L1159.56,822.97L1161.03,829.55L1162.49,836.11L1163.95,842.66L1165.42,849.18L1166.88,855.67L1168.35,862.14L1169.82,868.57L1171.28,874.97L1172.74,881.33L1174.21,887.64L1175.67,893.92L1177.14,900.14L1178.61,906.31L1180.07,912.43L1181.54,918.49L1183.00,924.50L1184.46,930.44L1185.93,936.32L1187.39,942.14L1188.86,947.89L1190.33,953.57L1191.79,959.18L1193.26,964.72L1194.72,970.18L1196.18,975.57L1197.65,980.89L1199.12,986.12L1200.58,991.28L1202.05,996.36L1203.51,1001.35L1204.97,1006.27L1206.44,1011.10L1207.90,1015.85L1209.37,1020.51L1210.84,1025.10L1212.30,1029.59L1213.76,1034.01L1215.23,1038.33L1216.70,1042.58L1218.16,1046.73L1219.62,1050.81L1221.09,1054.79L1222.55,1058.70L1224.02,1062.52L1225.49,1066.25L1226.95,1069.90L1228.41,1073.47L1229.88,1076.96L1231.35,1080.36L1232.81,1083.68L1234.28,1086.92L1235.74,1090.08L1237.20,1093.16L1238.67,1096.17L1240.13,1099.09L1241.60,1101.94L1243.07,1104.71L1244.53,1107.41L1245.99,1110.04L1247.46,1112.59L1248.92,1115.07L1250.39,1117.48L1251.86,1119.82L1253.32,1122.09L1254.79,1124.30L1256.25,1126.44L1257.71,1128.51L1259.18,1130.52L1260.64,1132.47L1262.11,1134.36L1263.58,1136.19L1265.04,1137.96L1266.51,1139.67L1267.97,1141.33L1269.43,1142.93L1270.90,1144.48L1272.37,1145.98L1273.83,1147.42L1275.30,1148.82L1276.76,1150.17L1278.22,1151.46L1279.69,1152.72L1281.15,1153.93L1282.62,1155.09L1284.09,1156.21L1285.55,1157.30L1287.01,1158.34L1288.48,1159.34L1289.95,1160.30L1291.41,1161.23L1292.88,1162.12L1294.34,1162.98L1295.80,1163.80L1297.27,1164.59L1298.74,1165.35L1300.20,1166.08L1301.66,1166.78L1303.13,1167.45L1304.60,1168.09L1306.06,1168.71L1307.53,1169.30L1308.99,1169.86L1310.45,1170.40L1311.92,1170.92L1313.38,1171.42L1314.85,1171.89L1316.32,1172.34L1317.78,1172.78L1319.24,1173.19L1320.71,1173.59L1322.17,1173.96L1323.64,1174.32L1325.11,1174.67L1326.57,1175.00L1328.04,1175.31L1329.50,1175.61L1330.96,1175.89L1332.43,1176.16L1333.89,1176.42L1335.36,1176.66L1336.83,1176.90L1338.29,1177.12L1339.76,1177.33L1341.22,1177.53L1342.68,1177.72L1344.15,1177.90L1345.62,1178.07L1347.08,1178.24L1348.55,1178.39L1350.01,1178.54L1351.47,1178.68L1352.94,1178.81L1354.40,1178.94L1355.87,1179.06L1357.33,1179.17L1358.80,1179.28L1360.27,1179.38L1361.73,1179.47L1363.20,1179.56L1364.66,1179.65L1366.12,1179.73L1367.59,1179.80L1369.05,1179.88L1370.52,1179.94L1371.98,1180.01L1373.45,1180.07L1374.92,1180.13L1376.38,1180.18L1377.85,1180.23L1379.31,1180.28L1380.78,1180.32L1382.24,1180.37L1383.70,1180.41L1385.17,1180.44L1386.63,1180.48L1388.10,1180.51L1389.57,1180.54L1391.03,1180.57L1392.49,1180.60L1393.96,1180.63L1395.42,1180.65L1396.89,1180.67L1398.36,1180.70L1399.82,1180.72L1401.29,1180.73L1402.75,1180.75L1404.21,1180.77L1405.68,1180.78L1407.14,1180.80L1408.61,1180.81L1410.08,1180.83L1411.54,1180.84L1413.01,1180.85L1414.47,1180.86L1415.93,1180.87L1417.40,1180.88L1418.87,1180.89L1420.33,1180.89L1421.80,1180.90L1423.26,1180.91L1424.72,1180.92L1426.19,1180.92L1427.65,1180.93L1429.12,1180.93L1430.58,1180.94L1432.05,1180.94L1433.52,1180.95L1434.98,1180.95L1436.45,1180.95L1437.91,1180.96L1439.38,1180.96L1440.84,1180.96L1442.30,1180.97L1443.77,1180.97L1445.23,1180.97L1446.70,1180.97L1448.17,1180.98L1449.63,1180.98L1451.10,1180.98L1452.56,1180.98L1454.03,1180.98L1455.49,1180.98L1456.95,1180.98L1458.42,1180.99L1459.88,1180.99L1461.35,1180.99L1462.82,1180.99L1464.28,1180.99L1465.74,1180.99L1467.21,1180.99L1468.67,1180.99L1470.14,1180.99L1471.61,1180.99L1473.07,1180.99L1474.54,1180.99L1476.00,1180.99L1477.46,1181.00L1478.93,1181.00L1480.39,1181.00L1481.86,1181.00L1483.33,1181.00L1484.79,1181.00L1486.26,1181.00L1487.72,1181.00L1489.18,1181.00L1490.65,1181.00L1492.12,1181.00L1493.58,1181.00L1495.05,1181.00L1496.51,1181.00L1497.97,1181.00L1499.44,1181.00L1500.90,1181.00L1502.37,1181.00L1503.83,1181.00L1505.30,1181.00L1506.77,1181.00L1508.23,1181.00L1509.70,1181.00L1511.16,1181.00L1512.62,1181.00L1514.09,1181.00L1515.55,1181.00L1517.02,1181.00L1518.48,1181.00L1519.95,1181.00L1521.42,1181.00L1522.88,1181.00L1524.35,1181.00L1525.81,1181.00L1527.28,1181.00L1528.74,1181.00L1530.20,1181.00L1531.67,1181.00L1533.13,1181.00L1534.60,1181.00L1536.07,1181.00L1537.53,1181.00L1538.99,1181.00L1540.46,1181.00L1541.92,1181.00L1543.39,1181.00L1544.86,1181.00L1546.32,1181.00L1547.79,1181.00L1549.25,1181.00L1550.71,1181.00L1552.18,1181.00L1553.64,1181.00L1555.11,1181.00L1556.58,1181.00L1558.04,1181.00L1559.51,1181.00L1560.97,1181.00L1562.43,1181.00L1563.90,1181.00L1565.37,1181.00L1566.83,1181.00L1568.30,1181.00L1569.76,1181.00L1571.22,1181.00L1572.69,1181.00L1574.15,1181.00L1575.62,1181.00L1577.08,1181.00L1578.55,1181.00L1580.02,1181.00L1581.48,1181.00L1582.95,1181.00L1584.41,1181.00L1585.88,1181.00L1587.34,1181.00L1588.80,1181.00L1590.27,1181.00L1591.73,1181.00L1593.20,1181.00L1594.67,1181.00L1596.13,1181.00L1597.60,1181.00L1599.06,1181.00L1600.53,1181.00L1601.99,1181.00L1603.45,1181.00L1604.92,1181.00L1606.38,1181.00L1607.85,1181.00L1609.32,1181.00L1610.78,1181.00L1612.24,1181.00L1613.71,1181.00L1615.17,1181.00L1616.64,1181.00L1618.11,1181.00L1619.57,1181.00L1621.04,1181.00L1622.50,1181.00" stroke="#ff0000" stroke-width="10" stroke-dasharray="10 8" stroke-dashoffset="0"/>
</g>
<text class="tk" transform="translate(156.40,1246.50) scale(1.0,1.035)" text-anchor="middle">0</text>
<text class="tk" transform="translate(449.50,1246.50) scale(1.0,1.035)" text-anchor="middle">2</text>
<text class="tk" transform="translate(742.70,1246.50) scale(1.0,1.035)" text-anchor="middle">4</text>
<text class="tk" transform="translate(1035.40,1246.50) scale(1.0,1.035)" text-anchor="middle">6</text>
<text class="tk" transform="translate(1328.40,1246.50) scale(1.0,1.035)" text-anchor="middle">8</text>
<text class="tk" transform="translate(1622.30,1246.50) scale(1.0,1.035)" text-anchor="middle">10</text>
<text class="tk" transform="translate(136.70,1199.00) scale(1.0,1.035)" text-anchor="end">0</text>
<text class="tk" transform="translate(139.10,1021.00) scale(1.0,1.035)" text-anchor="end">0.2</text>
<text class="tk" transform="translate(139.00,843.00) scale(1.0,1.035)" text-anchor="end">0.4</text>
<text class="tk" transform="translate(138.60,665.00) scale(1.0,1.035)" text-anchor="end">0.6</text>
<text class="tk" transform="translate(138.60,487.00) scale(1.0,1.035)" text-anchor="end">0.8</text>
<text class="tk" transform="translate(134.20,309.00) scale(1.0,1.035)" text-anchor="end">1</text>
<text class="tk" transform="translate(138.60,131.00) scale(1.0,1.035)" text-anchor="end">1.2</text>
<text class="lab" transform="translate(888.30,1313.70) scale(1.0,1.035)" text-anchor="middle">sum-rate(nats/s/channel)</text>
<text class="lab" transform="translate(51.8,600.3) rotate(-90) scale(1,1.035)" text-anchor="middle">PDF</text>
<text class="ann" transform="translate(330.50,170.00) scale(1,1.035)">M=4,<tspan class="gr rho" x="105.7" dy="0.97">ρ</tspan><tspan x="128.5" dy="-0.97">=0.9,1/</tspan><tspan class="gr" x="267.2" dy="0.97" textLength="24.0" lengthAdjust="spacingAndGlyphs">γ</tspan><tspan class="sub" x="293.2" dy="20.39">U</tspan><tspan x="320.0" dy="-21.35">=5dB</tspan></text>
<text class="ann" transform="translate(899.70,353.00) scale(1,1.035)">M=8,<tspan class="gr rho" x="105.7" dy="0.97">ρ</tspan><tspan x="128.5" dy="-0.97">=0.3,1/</tspan><tspan class="gr" x="267.2" dy="0.97" textLength="24.0" lengthAdjust="spacingAndGlyphs">γ</tspan><tspan class="sub" x="293.2" dy="20.39">U</tspan><tspan x="320.5" dy="-21.35">=10dB</tspan></text>
<g fill="#262626" shape-rendering="crispEdges">
<rect x="1013" y="47" width="584" height="123" fill="#fff"/>
<rect x="1013" y="47" width="584" height="3"/><rect x="1013" y="167" width="584" height="3"/>
<rect x="1013" y="47" width="3" height="123"/><rect x="1594" y="47" width="3" height="123"/>
<rect x="1028" y="79" width="136" height="5" fill="#0000ff"/>
<rect x="1028" y="130" width="10" height="10" fill="#ff0000"/>
<rect x="1046" y="130" width="10" height="10" fill="#ff0000"/>
<rect x="1064" y="130" width="10" height="10" fill="#ff0000"/>
<rect x="1082" y="130" width="10" height="10" fill="#ff0000"/>
<rect x="1100" y="130" width="10" height="10" fill="#ff0000"/>
<rect x="1118" y="130" width="10" height="10" fill="#ff0000"/>
<rect x="1136" y="130" width="10" height="10" fill="#ff0000"/>
<rect x="1154" y="130" width="10" height="10" fill="#ff0000"/>
</g>
<text class="leg" transform="translate(1171.60,99.60) scale(1.0,1.06)">Simulation</text>
<text class="leg" transform="translate(1174.00,152.20) scale(1,1.06)" xml:space="preserve">Analytic <tspan x="151.4">Gaus. </tspan><tspan x="272.4">approx.</tspan></text>
</svg>
</body></html>
